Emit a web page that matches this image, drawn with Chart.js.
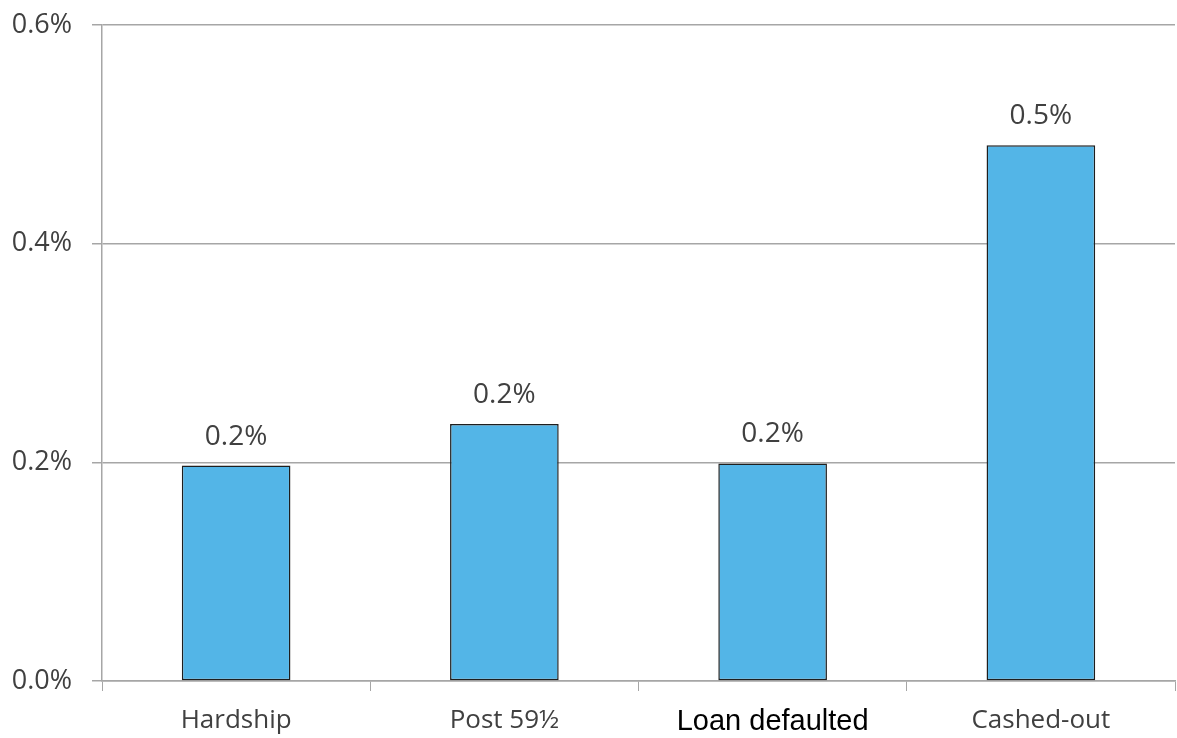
<!DOCTYPE html>
<html>
<head>
<meta charset="utf-8">
<title>Withdrawal rates</title>
<script src="https://cdn.jsdelivr.net/npm/chart.js@4"></script>
<style>
  html, body { margin: 0; padding: 0; background: #fff; }
  #wrap { width: 1177px; height: 738px; }
</style>
</head>
<body>
<div id="wrap"><canvas id="chart"></canvas></div>
<script>
// Categories and values (percent)
const categories = ['Hardship', 'Post 59\u00BD', 'Loan defaulted', 'Cashed-out'];
const rates = [0.197, 0.235, 0.199, 0.490];
const yTicks = [0, 0.2, 0.4, 0.6];

const FONT = '"Open Sans", "Liberation Sans", sans-serif';
const GRID = '#a6a6a6';

// Draw the value above each bar
const valueLabels = {
    id: 'valueLabels',
    afterDatasetsDraw(chart) {
        const ctx = chart.ctx;
        const meta = chart.getDatasetMeta(0);
        ctx.save();
        ctx.font = '28px ' + FONT;
        ctx.fillStyle = '#404040';
        ctx.textAlign = 'center';
        ctx.textBaseline = 'middle';
        meta.data.forEach((bar, i) => {
            ctx.fillText(rates[i].toFixed(1) + '%', bar.x, bar.y - 29);
        });
        ctx.restore();
    }
};

new Chart(document.getElementById('chart'), {
    type: 'bar',
    data: {
        labels: categories,
        datasets: [{
            data: rates,
            backgroundColor: '#53b5e7',
            borderColor: '#1e1e1e',
            borderWidth: 1.5,
            borderSkipped: false,
            categoryPercentage: 1,
            barPercentage: 0.405
        }]
    },
    options: {
        responsive: true,
        maintainAspectRatio: false,
        animation: false,
        layout: { padding: { top: 25, right: 2, left: 0, bottom: 0 } },
        plugins: {
            legend: { display: false },
            tooltip: { enabled: false }
        },
        scales: {
            x: {
                grid: {
                    offset: true,
                    drawOnChartArea: false,
                    drawTicks: true,
                    tickLength: 10,
                    color: GRID
                },
                border: { color: GRID, width: 1.5 },
                ticks: {
                    padding: 14,
                    font: ctx => ({ family: ctx.index === 2 ? '"Liberation Sans", sans-serif' : FONT, size: ctx.index === 2 ? 29 : 26 }),
                    color: ctx => ctx.index === 2 ? '#000' : '#404040'
                },
                afterFit: scale => { scale.height = 57; }
            },
            y: {
                min: 0,
                max: 0.6,
                afterBuildTicks: scale => {
                    scale.ticks = yTicks.map(v => ({ value: v }));
                },
                grid: {
                    color: GRID,
                    lineWidth: 1.5,
                    tickLength: 10
                },
                border: { color: GRID, width: 1.5 },
                ticks: {
                    padding: 20,
                    font: { family: FONT, size: 27 },
                    color: '#404040',
                    callback: v => v.toFixed(1) + '%'
                },
                afterFit: scale => {
                    scale.width = 102;
                    scale.paddingTop = 0;
                    scale.paddingBottom = 0;
                }
            }
        }
    },
    plugins: [valueLabels]
});
</script>
</body>
</html>
